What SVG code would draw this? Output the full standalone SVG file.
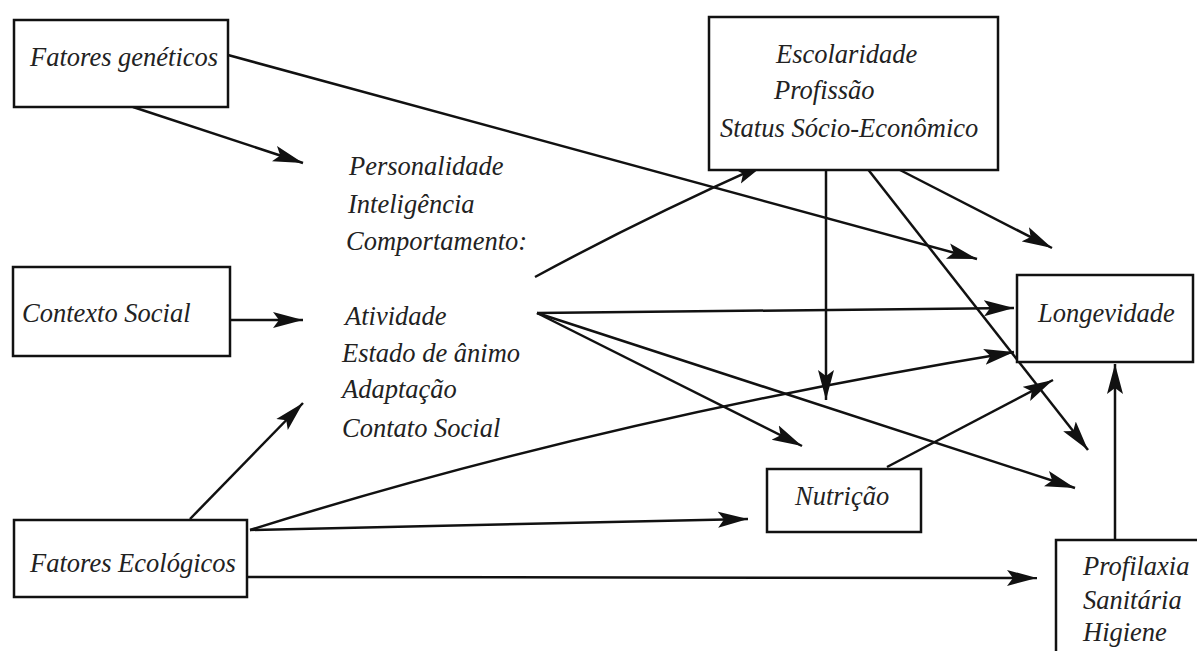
<svg xmlns="http://www.w3.org/2000/svg" width="1197" height="651" viewBox="0 0 1197 651">
<style>
.box{fill:#fff;stroke:#111;stroke-width:2.5}
text{font-family:'Liberation Serif','Times New Roman','DejaVu Serif',serif;font-style:italic;font-size:26.5px;fill:#222}
.c{fill:none;stroke:#111;stroke-width:2.5}
.a{marker-end:url(#ah)}
</style>
<defs>
<marker id="ah" markerUnits="userSpaceOnUse" markerWidth="32" markerHeight="18" viewBox="0 0 32 18" refX="30" refY="9" orient="auto">
<path d="M0,1 L30,9 L0,17 L6,9 z" fill="#111"/>
</marker>
</defs>
<rect width="1197" height="651" fill="#fff"/>
<g id="connectors">
<line class="c a" x1="133" y1="107" x2="303" y2="163"/>
<line class="c a" x1="228" y1="55" x2="977" y2="259"/>
<line class="c a" x1="230" y1="320" x2="303" y2="320"/>
<line class="c a" x1="190" y1="519" x2="303" y2="403"/>
<path class="c a" d="M535,277 Q640,220 765,164"/>
<line class="c a" x1="537" y1="313" x2="1014" y2="308"/>
<line class="c a" x1="537" y1="313" x2="802" y2="446"/>
<line class="c a" x1="537" y1="313" x2="1075" y2="488"/>
<line class="c a" x1="826" y1="170" x2="826" y2="400"/>
<line class="c a" x1="863" y1="163" x2="1088" y2="450"/>
<line class="c a" x1="900" y1="170" x2="1052" y2="248"/>
<path class="c a" d="M250,530 Q600,420 1014,352"/>
<line class="c a" x1="250" y1="530" x2="748" y2="519"/>
<line class="c a" x1="247" y1="577" x2="1037" y2="578"/>
<line class="c a" x1="887" y1="467" x2="1053" y2="380"/>
<line class="c a" x1="1115" y1="540" x2="1115" y2="364"/>
</g>
<g id="fatores-geneticos">
<rect class="box" x="14" y="20" width="214" height="87"/>
<text x="30" y="66">Fatores genéticos</text>
</g>
<g id="escolaridade">
<rect class="box" x="709" y="17" width="289" height="153"/>
<text x="776" y="63">Escolaridade</text>
<text x="774" y="99">Profissão</text>
<text x="720" y="137">Status Sócio-Econômico</text>
</g>
<g id="personalidade">
<text x="349" y="175">Personalidade</text>
<text x="348" y="213">Inteligência</text>
<text x="346" y="250">Comportamento:</text>
<text x="345" y="325">Atividade</text>
<text x="342" y="362">Estado de ânimo</text>
<text x="342" y="398">Adaptação</text>
<text x="342" y="437">Contato Social</text>
</g>
<g id="contexto-social">
<rect class="box" x="13" y="267" width="217" height="89"/>
<text x="22" y="322">Contexto Social</text>
</g>
<g id="longevidade">
<rect class="box" x="1017" y="275" width="176" height="87"/>
<text x="1038" y="322">Longevidade</text>
</g>
<g id="nutricao">
<rect class="box" x="767" y="469" width="154" height="63"/>
<text x="795" y="505">Nutrição</text>
</g>
<g id="fatores-ecologicos">
<rect class="box" x="14" y="520" width="233" height="77"/>
<text x="30" y="572">Fatores Ecológicos</text>
</g>
<g id="profilaxia">
<rect class="box" x="1056" y="540" width="170" height="140"/>
<text x="1083" y="575">Profilaxia</text>
<text x="1083" y="609">Sanitária</text>
<text x="1083" y="641">Higiene</text>
</g>
</svg>
